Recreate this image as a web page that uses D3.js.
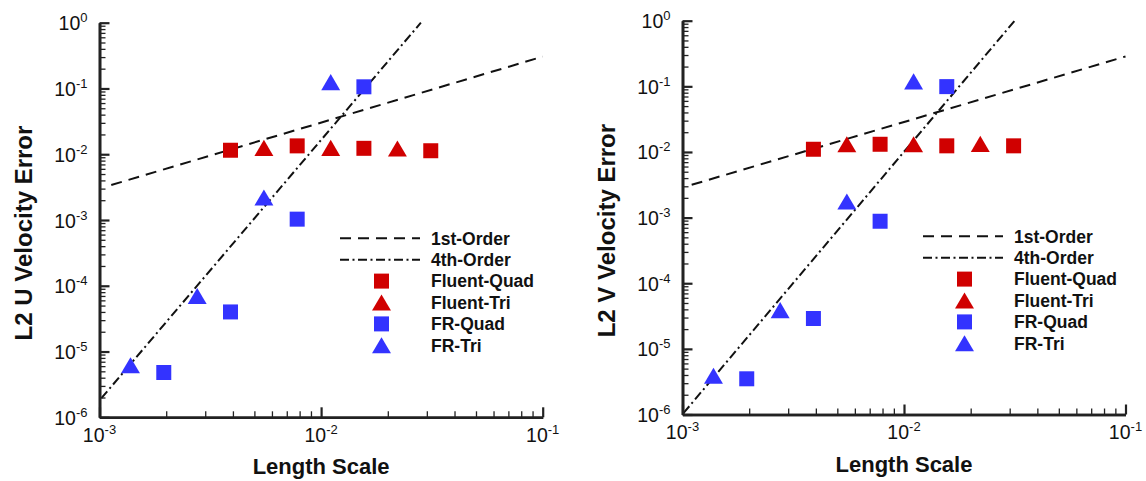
<!DOCTYPE html>
<html>
<head>
<meta charset="utf-8">
<script src="https://cdn.jsdelivr.net/npm/d3@7"></script>
<style>
  body { margin: 0; background: #fff; }
  text { font-family: "Liberation Sans", Arial, Helvetica, sans-serif; fill: #111; }
</style>
</head>
<body>
<svg id="chart" width="1146" height="481"></svg>
<script>
// ---- grid length scales for each mesh family ----
const lengthFluentQuad = [0.0039, 0.0078, 0.0156, 0.03125];
const lengthFluentTri  = [0.00552, 0.01105, 0.0221];
const lengthFRQuad     = [0.00195, 0.0039, 0.0078, 0.0156];
const lengthFRTri      = [0.00138, 0.00276, 0.00552, 0.01105];

// ---- L2 U velocity error ----
const errUFluentQuad = [0.0115, 0.0134, 0.0123, 0.0113];
const errUFluentTri  = [0.0125, 0.0125, 0.0122];
const errUFRQuad     = [4.8e-6, 4.0e-5, 1.03e-3, 0.106];
const errUFRTri      = [6.2e-6, 7.0e-5, 2.2e-3, 0.125];

// ---- L2 V velocity error ----
const errVFluentQuad = [0.0110, 0.0131, 0.0124, 0.0124];
const errVFluentTri  = [0.0131, 0.0131, 0.0133];
const errVFRQuad     = [3.5e-6, 2.9e-5, 8.8e-4, 0.099];
const errVFRTri      = [3.9e-6, 3.9e-5, 1.76e-3, 0.119];

// ---- reference slope lines (end points: [length, error]) ----
const firstOrderU  = [[0.00113, 0.0034], [0.1, 0.305]];
const fourthOrderU = [[0.00102, 1.95e-6], [0.0282, 1]];
const firstOrderV  = [[0.0011, 0.00316], [0.1, 0.285]];
const fourthOrderV = [[0.00101, 1.05e-6], [0.0316, 1]];

// ---- axes ----
const xTickValues    = [1e-3, 1e-2, 1e-1];
const xTickExponents = ["-3", "-2", "-1"];
const yTickValues    = [1, 1e-1, 1e-2, 1e-3, 1e-4, 1e-5, 1e-6];
const yTickExponents = ["0", "-1", "-2", "-3", "-4", "-5", "-6"];
const xAxisTitle = "Length Scale";
const yAxisTitles = ["L2 U Velocity Error", "L2 V Velocity Error"];
const legendLabels = ["1st-Order", "4th-Order", "Fluent-Quad", "Fluent-Tri", "FR-Quad", "FR-Tri"];

const RED = "#d00000";
const BLUE = "#3333ff";
const DASH_FIRST = "11,7";
const DASH_FOURTH = "9,3.5,2,3.5";

// triangle centred on its bounding box
const triangleBox = {
  draw(context, size) {
    const w = Math.sqrt(size) * 1.25, h = w * 0.85;
    context.moveTo(0, -h / 2);
    context.lineTo(w / 2, h / 2);
    context.lineTo(-w / 2, h / 2);
    context.closePath();
  }
};

const svg = d3.select("#chart");

function minorTicks(lo, hi) {
  const out = [];
  for (let e = Math.round(Math.log10(lo)); e < Math.round(Math.log10(hi)); e++) {
    for (let k = 2; k <= 9; k++) out.push(k * Math.pow(10, e));
  }
  return out;
}

function drawPanel(p) {
  const g = svg.append("g");
  const x = d3.scaleLog().domain([1e-3, 1e-1]).range([p.left, p.right]);
  const y = d3.scaleLog().domain([1e-6, 1]).range([p.bottom, p.top]);

  // reference lines
  const line = d3.line().x(d => x(d[0])).y(d => y(d[1]));
  g.append("path").attr("d", line(p.first)).attr("fill", "none")
    .attr("stroke", "#111").attr("stroke-width", 2).attr("stroke-dasharray", DASH_FIRST);
  g.append("path").attr("d", line(p.fourth)).attr("fill", "none")
    .attr("stroke", "#111").attr("stroke-width", 2).attr("stroke-dasharray", DASH_FOURTH);

  // axes: minor ticks, major ticks, spine
  const xMinor = d3.axisBottom(x).tickValues(minorTicks(1e-3, 1e-1)).tickSize(-6).tickSizeOuter(0).tickFormat("");
  const yMinor = d3.axisLeft(y).tickValues(minorTicks(1e-6, 1)).tickSize(-6).tickSizeOuter(0).tickFormat("");
  const xMajor = d3.axisBottom(x).tickValues(xTickValues).tickSize(-10).tickSizeOuter(0).tickFormat("");
  const yMajor = d3.axisLeft(y).tickValues(yTickValues).tickSize(-10).tickSizeOuter(0).tickFormat("");
  [xMinor, xMajor].forEach((ax, i) => {
    const a = g.append("g").attr("transform", `translate(0,${p.bottom})`).call(ax);
    a.selectAll(".tick line").attr("stroke", "#222").attr("stroke-width", i ? 2.2 : 1.3);
    a.select(".domain").attr("stroke", "#222").attr("stroke-width", 2.6);
  });
  [yMinor, yMajor].forEach((ax, i) => {
    const a = g.append("g").attr("transform", `translate(${p.left},0)`).call(ax);
    a.selectAll(".tick line").attr("stroke", "#222").attr("stroke-width", i ? 2.2 : 1.3);
    a.select(".domain").attr("stroke", "#222").attr("stroke-width", 2.6);
  });

  // tick labels as 10^n
  xTickValues.forEach((v, i) => {
    const t = g.append("text").attr("x", x(v)).attr("y", p.bottom + 24.5)
      .attr("text-anchor", "middle").style("font-size", "19.5px");
    t.append("tspan").text("10");
    t.append("tspan").attr("dy", -8).style("font-size", "13px").text(xTickExponents[i]);
  });
  yTickValues.forEach((v, i) => {
    const t = g.append("text").attr("x", p.left - 12).attr("y", y(v) + 7.5)
      .attr("text-anchor", "end").style("font-size", "19.5px");
    t.append("tspan").text("10");
    t.append("tspan").attr("dy", -8).style("font-size", "13px").text(yTickExponents[i]);
  });

  // axis titles
  g.append("text").attr("x", (p.left + p.right) / 2).attr("y", p.bottom + 57)
    .attr("text-anchor", "middle").style("font-size", "22px").style("font-weight", "bold")
    .text(xAxisTitle);
  g.append("text")
    .attr("transform", `translate(${p.left - 68},${(p.top + p.bottom) / 2 + 13}) rotate(-90)`)
    .attr("text-anchor", "middle").style("font-size", "24px").style("font-weight", "bold")
    .text(p.yTitle);

  // data markers
  const square = d3.symbol().type(d3.symbolSquare).size(225);
  const tri = d3.symbol().type(triangleBox).size(230);
  p.series.forEach(s => {
    g.append("g").selectAll("path").data(s.xs.map((v, i) => [v, s.ys[i]])).join("path")
      .attr("d", s.shape === "square" ? square : tri)
      .attr("transform", d => `translate(${x(d[0])},${y(d[1])})`)
      .attr("fill", s.color);
  });

  // legend
  const lg = g.append("g").attr("transform", `translate(${p.left},${p.top})`);
  const rowY = i => 215.6 + i * 21.4;
  lg.append("line").attr("x1", 240.5).attr("x2", 320.5).attr("y1", rowY(0)).attr("y2", rowY(0))
    .attr("stroke", "#111").attr("stroke-width", 2).attr("stroke-dasharray", DASH_FIRST);
  lg.append("line").attr("x1", 240.5).attr("x2", 320.5).attr("y1", rowY(1)).attr("y2", rowY(1))
    .attr("stroke", "#111").attr("stroke-width", 2).attr("stroke-dasharray", DASH_FOURTH);
  p.series.forEach((s, i) => {
    lg.append("path").attr("d", s.shape === "square" ? square : tri)
      .attr("transform", `translate(282,${rowY(i + 2)})`).attr("fill", s.color);
  });
  legendLabels.forEach((lab, i) => {
    lg.append("text").attr("x", 331.5).attr("y", rowY(i) + 6.3)
      .style("font-size", "17.5px").style("font-weight", "bold").text(lab);
  });
}

drawPanel({
  left: 99.5, right: 542.7, top: 22.7, bottom: 417.3,
  yTitle: yAxisTitles[0], first: firstOrderU, fourth: fourthOrderU,
  series: [
    { xs: lengthFluentQuad, ys: errUFluentQuad, shape: "square", color: RED },
    { xs: lengthFluentTri,  ys: errUFluentTri,  shape: "triangle", color: RED },
    { xs: lengthFRQuad,     ys: errUFRQuad,     shape: "square", color: BLUE },
    { xs: lengthFRTri,      ys: errUFRTri,      shape: "triangle", color: BLUE }
  ]
});
drawPanel({
  left: 682.5, right: 1125.5, top: 20.7, bottom: 414.5,
  yTitle: yAxisTitles[1], first: firstOrderV, fourth: fourthOrderV,
  series: [
    { xs: lengthFluentQuad, ys: errVFluentQuad, shape: "square", color: RED },
    { xs: lengthFluentTri,  ys: errVFluentTri,  shape: "triangle", color: RED },
    { xs: lengthFRQuad,     ys: errVFRQuad,     shape: "square", color: BLUE },
    { xs: lengthFRTri,      ys: errVFRTri,      shape: "triangle", color: BLUE }
  ]
});
</script>
</body>
</html>
